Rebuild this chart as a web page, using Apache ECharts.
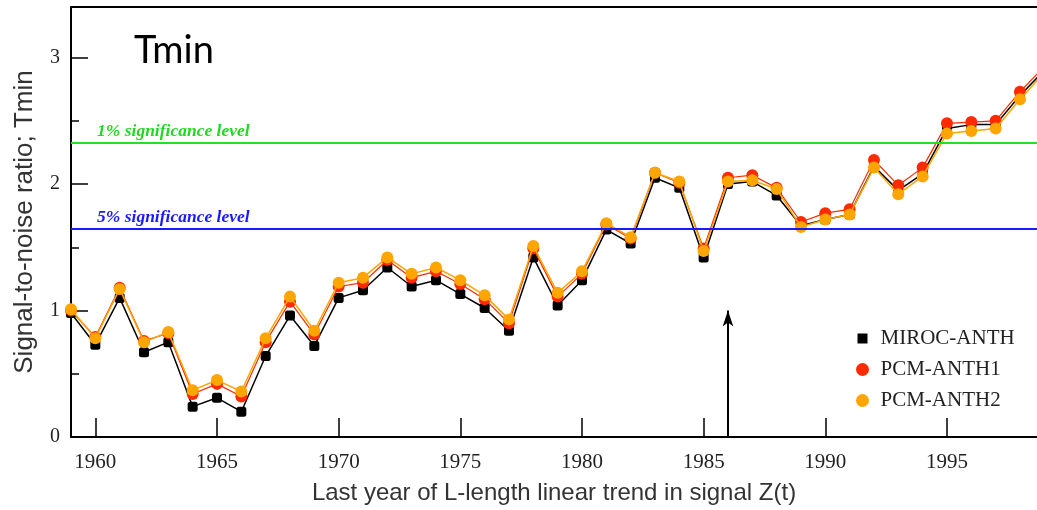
<!DOCTYPE html>
<html>
<head>
<meta charset="utf-8">
<script src="https://cdn.jsdelivr.net/npm/echarts@6/dist/echarts.min.js"></script>
<style>
html,body{margin:0;padding:0;background:#fff;}
#chart{width:1037px;height:510px;}
</style>
</head>
<body>
<div id="chart"></div>
<script>
// ---- data ----
const years = [1959,1960,1961,1962,1963,1964,1965,1966,1967,1968,1969,1970,1971,1972,1973,1974,1975,1976,1977,1978,1979,1980,1981,1982,1983,1984,1985,1986,1987,1988,1989,1990,1991,1992,1993,1994,1995,1996,1997,1998,1999];
const mirocAnth = [0.98,0.73,1.10,0.67,0.75,0.24,0.31,0.20,0.64,0.96,0.72,1.10,1.16,1.34,1.19,1.24,1.13,1.02,0.84,1.42,1.04,1.24,1.64,1.53,2.05,1.97,1.42,2.00,2.02,1.91,1.67,1.72,1.76,2.14,1.95,2.08,2.44,2.47,2.47,2.70,2.90];
const pcmAnth1 = [1.00,0.79,1.18,0.76,0.82,0.34,0.42,0.32,0.75,1.07,0.81,1.19,1.22,1.40,1.26,1.31,1.21,1.09,0.90,1.49,1.11,1.29,1.68,1.57,2.09,2.01,1.49,2.05,2.07,1.97,1.70,1.77,1.80,2.19,1.99,2.13,2.48,2.49,2.50,2.73,2.93];
const pcmAnth2 = [1.01,0.78,1.17,0.75,0.83,0.37,0.45,0.36,0.78,1.11,0.84,1.22,1.26,1.42,1.29,1.34,1.24,1.12,0.93,1.51,1.14,1.31,1.69,1.58,2.09,2.02,1.47,2.02,2.03,1.96,1.66,1.72,1.76,2.13,1.92,2.06,2.40,2.42,2.44,2.67,2.88];
const seriesNames = ['MIROC-ANTH','PCM-ANTH1','PCM-ANTH2'];
const xTickYears = [1960,1965,1970,1975,1980,1985,1990,1995];
const yMajorTicks = [0,1,2,3];
const yMinorTicks = [0.5,1.5,2.5];
const xMin = 1959, xMax = 1998.7;
const yMin = 0, yMax = 3.4;
const sig1 = 2.326;
const sig5 = 1.645;
const sig1Label = '1% significance level';
const sig5Label = '5% significance level';
const arrowYear = 1986;
const arrowTop = 1.0;
const titleText = 'Tmin';
const xName = 'Last year of L-length linear trend in signal Z(t)';
const yName = 'Signal-to-noise ratio; Tmin';

const toPairs = arr => years.map((y,i)=>[y, arr[i]]);

const chart = echarts.init(document.getElementById('chart'), null, {renderer:'canvas'});
const serif = 'Liberation Serif';
const sans = 'Liberation Sans';
const squareIcon = 'path://M0,0M13,13M1.5,1.5h10v10h-10z';

const sigLabel = (text, color) => ({
  show: true,
  position: 'insideStartTop',
  formatter: text,
  color: color,
  fontFamily: serif,
  fontStyle: 'italic',
  fontWeight: 'bold',
  fontSize: 17.5,
  distance: 2,
  padding: [0,0,0,24]
});

chart.setOption({
  animation: false,
  backgroundColor: '#fff',
  title: {
    text: titleText, left: 129, top: 27,
    textStyle: {fontFamily: 'Lato', fontSize: 38, fontWeight: 'normal', color: '#000'}
  },
  grid: {left: 71, top: 7, right: 0, bottom: 68, show: false},
  legend: {
    orient: 'vertical', left: 851, top: 323,
    itemWidth: 26, itemHeight: 13, itemGap: 10,
    textStyle: {fontFamily: serif, fontSize: 21, color: '#222', lineHeight: 20},
    data: [
      {name: seriesNames[0], icon: squareIcon},
      {name: seriesNames[1], icon: 'circle'},
      {name: seriesNames[2], icon: 'circle'}
    ]
  },
  xAxis: [
    {
      type: 'value', min: xMin, max: xMax,
      axisLine: {onZero: false, lineStyle: {color: '#000', width: 2}},
      axisTick: {inside: true, length: 19, customValues: xTickYears, lineStyle: {color: '#000', width: 1.5}},
      axisLabel: {customValues: xTickYears, formatter: v => String(v), fontFamily: serif, fontSize: 21, color: '#222', margin: 15},
      splitLine: {show: false},
      name: xName, nameLocation: 'middle', nameGap: 44,
      nameTextStyle: {fontFamily: sans, fontSize: 24, color: '#333'}
    },
    {
      type: 'value', min: xMin, max: xMax, position: 'top',
      axisLine: {show: true, onZero: false, lineStyle: {color: '#000', width: 2}},
      axisTick: {show: false}, axisLabel: {show: false}, splitLine: {show: false}
    }
  ],
  yAxis: [
    {
      type: 'value', min: yMin, max: yMax,
      axisLine: {show: true, onZero: false, lineStyle: {color: '#000', width: 2}},
      axisTick: {show: true, inside: true, length: 17, customValues: yMajorTicks, lineStyle: {color: '#000', width: 1.5}},
      axisLabel: {customValues: yMajorTicks, fontFamily: serif, fontSize: 20, color: '#222', margin: 11},
      splitLine: {show: false},
      name: yName, nameLocation: 'middle', nameGap: 33,
      nameTextStyle: {fontFamily: sans, fontSize: 26, color: '#333'}
    },
    {
      type: 'value', min: yMin, max: yMax, position: 'left',
      axisLine: {show: false},
      axisTick: {show: true, inside: true, length: 8, customValues: yMinorTicks, lineStyle: {color: '#000', width: 1.5}},
      axisLabel: {show: false},
      splitLine: {show: false}
    }
  ],
  series: [
    {
      name: seriesNames[0], type: 'line', data: toPairs(mirocAnth),
      symbol: 'roundRect', symbolSize: 10,
      itemStyle: {color: '#000'}, lineStyle: {color: '#000', width: 1.5},
      z: 2,
      markLine: {
        silent: true, symbol: ['none','none'], animation: false,
        data: [
          {yAxis: sig1, lineStyle: {color: '#22e022', width: 2, type: 'solid'}, label: sigLabel(sig1Label, '#22d822')},
          {yAxis: sig5, lineStyle: {color: '#1a1aff', width: 2, type: 'solid'}, label: sigLabel(sig5Label, '#1a1aff')}
        ]
      }
    },
    {
      name: seriesNames[1], type: 'line', data: toPairs(pcmAnth1),
      symbol: 'circle', symbolSize: 12,
      itemStyle: {color: '#ff2a00'}, lineStyle: {color: '#ff2a00', width: 1.2},
      z: 3,
      markLine: {
        silent: true, animation: false,
        label: {show: false},
        data: [[
          {coord: [arrowYear, 0], symbol: 'none'},
          {coord: [arrowYear, arrowTop], symbol: 'arrow', symbolSize: [8, 16]}
        ]],
        lineStyle: {color: '#000', width: 2, type: 'solid'}
      }
    },
    {
      name: seriesNames[2], type: 'line', data: toPairs(pcmAnth2),
      symbol: 'circle', symbolSize: 12,
      itemStyle: {color: '#ffa500'}, lineStyle: {color: '#ffa500', width: 1.5},
      z: 4
    }
  ]
});
</script>
</body>
</html>
